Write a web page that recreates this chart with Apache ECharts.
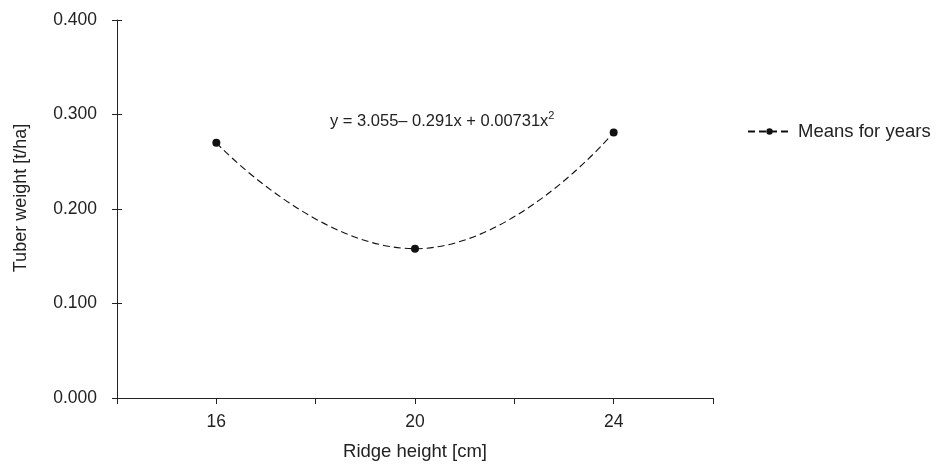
<!DOCTYPE html>
<html><head><meta charset="utf-8">
<script src="https://cdn.jsdelivr.net/npm/echarts@6/dist/echarts.min.js"></script>
<style>html,body{margin:0;padding:0;background:#fff}#c{width:938px;height:470px}</style>
</head><body><div id="c"></div>
<script>
const ridgeHeights = [16, 20, 24];
const tuberWeights = [0.270, 0.158, 0.281];
const xTickLabels = [16, 20, 24];
const seriesName = 'Means for years';

const pts = ridgeHeights.map((x, i) => [x, tuberWeights[i]]);
const FONT = '"Liberation Sans", Arial, sans-serif';
const INK = '#222';
const chart = echarts.init(document.getElementById('c'), null, {renderer: 'canvas'});
chart.setOption({
  animation: false,
  textStyle: {fontFamily: FONT},
  grid: {left: 117, right: 225, top: 20, bottom: 72, containLabel: false},
  xAxis: {
    type: 'value', min: 14, max: 26, interval: 2,
    name: 'Ridge height [cm]', nameLocation: 'middle', nameGap: 44,
    nameTextStyle: {color: INK, fontSize: 18.5, fontFamily: FONT},
    axisLine: {lineStyle: {color: INK, width: 1}},
    axisTick: {show: true, length: 6, lineStyle: {color: INK}},
    axisLabel: {color: INK, fontSize: 17.5, fontFamily: FONT, margin: 15,
      formatter: v => xTickLabels.indexOf(v) >= 0 ? String(v) : ''},
    splitLine: {show: false}
  },
  yAxis: [{
    type: 'value', min: 0, max: 0.4, interval: 0.1,
    name: 'Tuber weight [t/ha]', nameLocation: 'middle', nameGap: 87, nameRotate: 90,
    nameTextStyle: {color: INK, fontSize: 18, fontFamily: FONT, padding: [0, 0, 0, 22]},
    axisLine: {show: true, lineStyle: {color: INK, width: 1}},
    axisTick: {show: true, length: 5, lineStyle: {color: INK}},
    axisLabel: {color: INK, fontSize: 17.5, fontFamily: FONT, margin: 20, formatter: v => v.toFixed(3)},
    splitLine: {show: false}
  }, {
    type: 'value', min: 0, max: 0.4, interval: 0.1, position: 'left',
    axisLine: {show: false},
    axisTick: {show: true, inside: true, length: 5, lineStyle: {color: INK}},
    axisLabel: {show: false}, splitLine: {show: false}
  }],
  legend: {
    left: 742, top: 117, itemWidth: 43, itemHeight: 8, itemGap: 10,
    textStyle: {color: INK, fontSize: 18.5, fontFamily: FONT, padding: [0, 0, 0, 2]},
    data: [seriesName]
  },
  series: [{
    name: seriesName, type: 'line', data: pts, smooth: 0.5,
    symbol: 'circle', symbolSize: 8,
    itemStyle: {color: '#111'},
    lineStyle: {color: '#111', width: 1.1, type: [7, 4]}
  }],
  graphic: [{
    type: 'text', left: 330, top: 110,
    style: {
      text: '{n|y = 3.055\u2013 0.291x + 0.00731x}{s|2}',
      rich: {
        n: {fontSize: 16.5, fontFamily: FONT, fill: INK, verticalAlign: 'bottom', lineHeight: 20},
        s: {fontSize: 11, fontFamily: FONT, fill: INK, verticalAlign: 'top', lineHeight: 20, padding: [0,0,7,0]}
      }
    }
  }]
});
</script></body></html>
